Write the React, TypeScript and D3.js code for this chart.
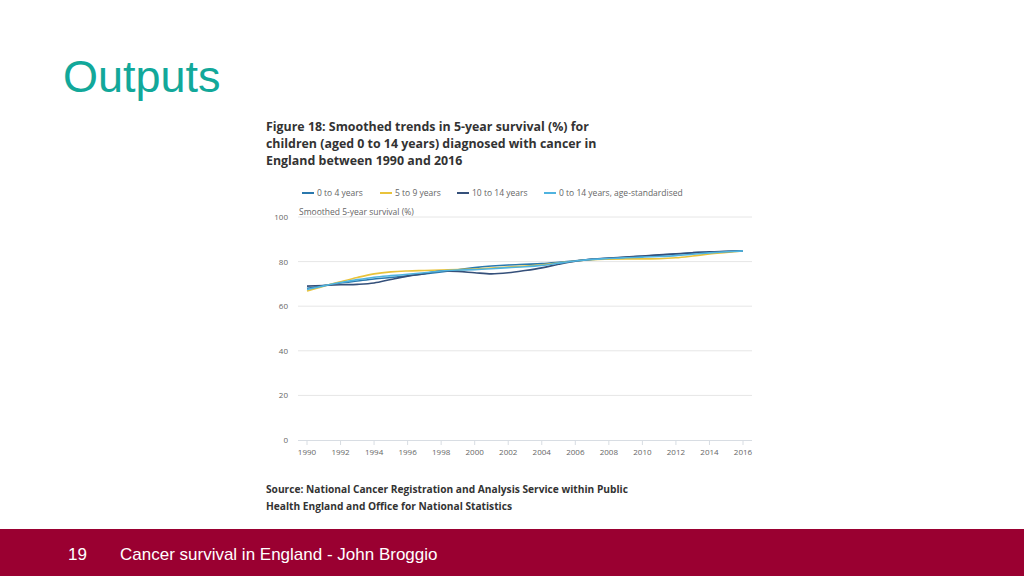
import React from "react";
import * as d3 from "d3";

const years = d3.range(1990, 2017);
const age0to4 = [68.0, 69.3, 70.4, 71.3, 72.2, 72.9, 73.6, 74.5, 75.4, 76.3, 77.3, 78.0, 78.5, 78.8, 79.1, 79.7, 80.4, 81.0, 81.5, 81.9, 82.4, 82.9, 83.4, 83.9, 84.3, 84.5, 84.8];
const age5to9 = [66.8, 69.0, 71.0, 72.9, 74.5, 75.4, 75.8, 76.0, 76.2, 76.4, 76.7, 77.1, 77.6, 78.0, 78.6, 79.4, 80.3, 80.9, 81.1, 81.2, 81.2, 81.3, 81.7, 82.5, 83.4, 84.1, 84.8];
const age10to14 = [69.0, 69.3, 69.6, 69.8, 70.4, 72.0, 73.5, 74.6, 75.8, 75.6, 75.0, 74.5, 75.0, 76.0, 77.2, 78.8, 80.2, 81.1, 81.6, 82.0, 82.5, 83.0, 83.5, 84.0, 84.4, 84.6, 84.8];
const ageStd = [67.5, 69.1, 70.6, 71.9, 73.0, 73.7, 74.3, 75.0, 75.8, 76.2, 76.4, 76.8, 77.3, 77.7, 78.3, 79.3, 80.3, 81.0, 81.4, 81.7, 82.0, 82.3, 82.7, 83.3, 83.9, 84.4, 84.8];

const seriesNames = ["0 to 4 years", "5 to 9 years", "10 to 14 years", "0 to 14 years, age-standardised"];
const seriesValues = [age0to4, age5to9, age10to14, ageStd];
const seriesColors = ["#2a78ad", "#e9c33b", "#35507a", "#4fb3df"];
const yTicks = [0, 20, 40, 60, 80, 100];
const xTicks = d3.range(1990, 2017, 2);

const titleLines = [
  "Figure 18: Smoothed trends in 5-year survival (%) for",
  "children (aged 0 to 14 years) diagnosed with cancer in",
  "England between 1990 and 2016",
];
const sourceLines = [
  "Source: National Cancer Registration and Analysis Service within Public",
  "Health England and Office for National Statistics",
];
const legendX = [302, 380, 457, 544];

export default function App() {
  const x = d3.scaleLinear().domain([1990, 2016]).range([307, 743]);
  const y = d3.scaleLinear().domain([0, 100]).range([440, 217]);
  const line = d3
    .line<number>()
    .x((_, i) => x(years[i]))
    .y((d) => y(d))
    .curve(d3.curveMonotoneX);
  const chartFont = "'Open Sans', sans-serif";
  return (
    <svg
      width={1024}
      height={576}
      style={{ position: "absolute", left: 0, top: 0, background: "#fff" }}
    >
      <rect x={0} y={0} width={1024} height={576} fill="#fff" />
      <text x={63} y={92} fontFamily="'Liberation Sans', Arial, sans-serif" fontSize={45} fill="#12a89a">
        Outputs
      </text>
      {titleLines.map((t, i) => (
        <text key={i} x={266} y={131 + i * 17} fontFamily={chartFont} fontWeight={700} fontSize={12.4} fill="#333">
          {t}
        </text>
      ))}
      {seriesNames.map((n, i) => (
        <g key={n}>
          <line x1={legendX[i]} x2={legendX[i] + 12} y1={193} y2={193} stroke={seriesColors[i]} strokeWidth={2} />
          <text x={legendX[i] + 15} y={196} fontFamily={chartFont} fontSize={8.5} fill="#666">
            {n}
          </text>
        </g>
      ))}
      <text x={299} y={215} fontFamily={chartFont} fontSize={8.5} fill="#666">
        Smoothed 5-year survival (%)
      </text>
      {yTicks.map((t) => (
        <g key={t}>
          {t > 0 && <line x1={298} x2={752} y1={y(t)} y2={y(t)} stroke="#e6e6e6" strokeWidth={1} />}
          <text x={288} y={y(t) + 3} textAnchor="end" fontFamily={chartFont} fontSize={8} fill="#666">
            {t}
          </text>
        </g>
      ))}
      <line x1={298} x2={752} y1={440.5} y2={440.5} stroke="#d8dde3" strokeWidth={1} />
      {xTicks.map((t) => (
        <g key={t}>
          <line x1={x(t)} x2={x(t)} y1={440} y2={445} stroke="#d8dde3" strokeWidth={1} />
          <text x={x(t)} y={455} textAnchor="middle" fontFamily={chartFont} fontSize={8} fill="#666">
            {t}
          </text>
        </g>
      ))}
      {seriesValues.map((vals, i) => (
        <path key={i} d={line(vals) || ""} fill="none" stroke={seriesColors[i]} strokeWidth={1.6} />
      ))}
      {sourceLines.map((t, i) => (
        <text key={i} x={266} y={493 + i * 17} fontFamily={chartFont} fontWeight={700} fontSize={10.2} fill="#333">
          {t}
        </text>
      ))}
      <rect x={0} y={529} width={1024} height={47} fill="#9a0031" />
      <text x={68} y={560} fontFamily="'Liberation Sans', Arial, sans-serif" fontSize={17} fill="#fff">
        19
      </text>
      <text x={120} y={560} fontFamily="'Liberation Sans', Arial, sans-serif" fontSize={17} fill="#fff">
        Cancer survival in England - John Broggio
      </text>
    </svg>
  );
}
